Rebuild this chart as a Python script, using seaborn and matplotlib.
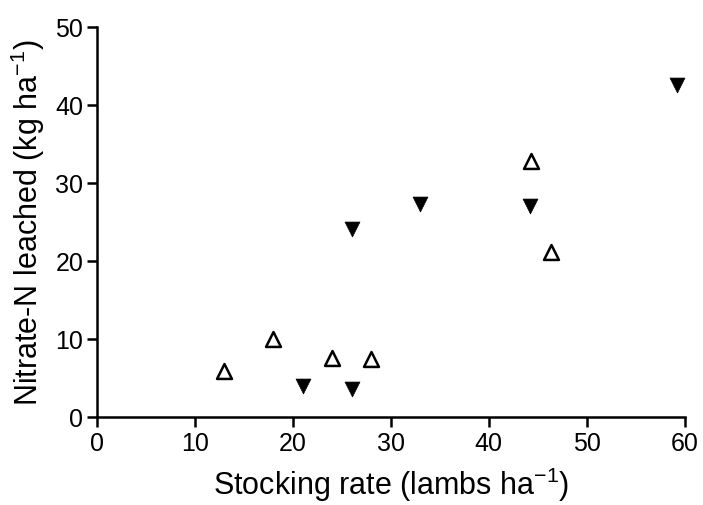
import matplotlib
matplotlib.use("Agg")
import matplotlib.pyplot as plt
import seaborn as sns
import pandas as pd

# Open triangles series
open_x = [13, 18, 24, 28, 44.3, 46.3]
open_y = [5.9, 10.0, 7.6, 7.4, 32.8, 21.1]
# Filled inverted triangles series
filled_x = [21, 26, 26, 33, 44.2, 59.2]
filled_y = [4.0, 3.6, 24.1, 27.3, 27.0, 42.5]

x_ticks = [0, 10, 20, 30, 40, 50, 60]
y_ticks = [0, 10, 20, 30, 40, 50]

sns.set_theme(style="ticks")
plt.rcParams['font.family'] = ['Liberation Sans', 'DejaVu Sans']
plt.rcParams['mathtext.fontset'] = 'custom'
plt.rcParams['mathtext.rm'] = 'Liberation Sans'
plt.rcParams['mathtext.it'] = 'Liberation Sans'

fig = plt.figure(figsize=(7.03, 5.06), dpi=100)
ax = fig.add_axes([0.138, 0.174, 0.836, 0.771])

df_open = pd.DataFrame({'x': open_x, 'y': open_y})
df_filled = pd.DataFrame({'x': filled_x, 'y': filled_y})

sns.scatterplot(data=df_open, x='x', y='y', marker='^', s=115,
                facecolor='white', edgecolor='black', linewidth=1.8, ax=ax, zorder=3,
                clip_on=False)
sns.scatterplot(data=df_filled, x='x', y='y', marker='v', s=115,
                color='black', edgecolor='black', linewidth=0.5, ax=ax, zorder=3,
                clip_on=False)

ax.set_xlim(0, 60)
ax.set_ylim(0, 50)
ax.set_xticks(x_ticks)
ax.set_yticks(y_ticks)
ax.tick_params(axis='both', direction='out', length=7, width=1.8,
               labelsize=18, color='black', labelcolor='black', pad=3)
for side in ['top', 'right']:
    ax.spines[side].set_visible(False)
for side in ['left', 'bottom']:
    ax.spines[side].set_linewidth(1.8)
    ax.spines[side].set_color('black')

ax.set_xlabel(r'Stocking rate (lambs ha$^{-1}$)', fontsize=22, labelpad=7, color='black')
ax.set_ylabel(r'Nitrate-N leached (kg ha$^{-1}$)', fontsize=22, labelpad=6, color='black')

fig.savefig('out.png', dpi=100, facecolor='white')
